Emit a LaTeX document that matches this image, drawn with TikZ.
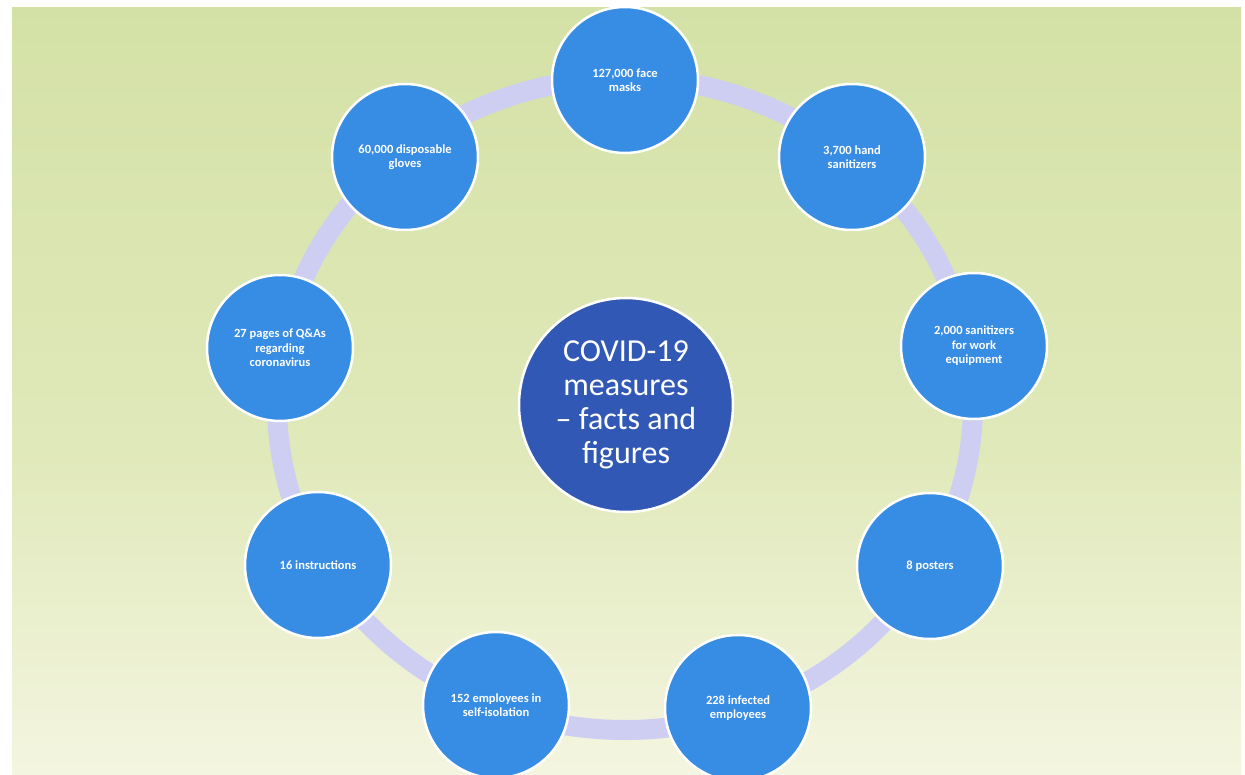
\documentclass[tikz,border=0pt]{standalone}
\usepackage{fontspec}
\setmainfont{Carlito}
\definecolor{bgtop}{RGB}{212,225,166}
\definecolor{bgmid}{RGB}{224,233,186}
\definecolor{bgbot}{RGB}{244,245,224}
\definecolor{ringc}{RGB}{206,206,243}
\definecolor{itemblue}{RGB}{55,140,228}
\definecolor{hubblue}{RGB}{48,88,180}
\begin{document}
\begin{tikzpicture}[x=1pt,y=-1pt,
  item/.style={circle, fill=itemblue, draw=white, line width=2.5pt, minimum size=146pt, inner sep=0pt,
    text=white, align=center, font=\fontsize{12.5}{14.5}\selectfont\bfseries},
  hub/.style={circle, fill=hubblue, draw=white, line width=2.5pt, minimum size=214pt, inner sep=0pt,
    text=white, align=center, font=\fontsize{32}{34}\selectfont},
  ringline/.style={draw=ringc, line width=20pt}]
\useasboundingbox (0,0) rectangle (1245,775);
\fill[white] (0,0) rectangle (1245,775);
\shade[top color=bgtop, bottom color=bgmid] (12,8) rectangle (1241,450);
\shade[top color=bgmid, bottom color=bgbot] (12,450) rectangle (1241,775);
\draw[ringline] (625,404) ellipse [x radius=348pt, y radius=326pt];
\node[hub] (hub) at (626,405) {COVID-19\\measures\\-- facts and\\figures};
\node[item] (n1) at (625,80) {127,000 face\\masks};
\node[item] (n2) at (852,157) {3,700 hand\\sanitizers};
\node[item] (n3) at (974,346) {2,000 sanitizers\\for work\\equipment};
\node[item] (n4) at (930,566) {8 posters};
\node[item] (n5) at (738,708) {228 infected\\employees};
\node[item] (n6) at (496,705) {152 employees in\\self-isolation};
\node[item] (n7) at (318,565) {16 instructions};
\node[item] (n8) at (280,348) {27 pages of Q\&As\\regarding\\coronavirus};
\node[item] (n9) at (405,157) {60,000 disposable\\gloves};
\end{tikzpicture}
\end{document}
